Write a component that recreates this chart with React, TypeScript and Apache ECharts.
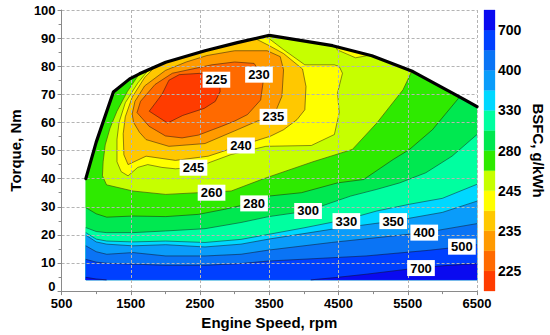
import React, { useEffect, useRef } from 'react';
import * as echarts from 'echarts';

type Pt = [number, number];

// Contour levels (g/kWh) and the colour of each band (band i lies below LEVELS[i])
const LEVELS = [225, 230, 235, 240, 245, 260, 280, 300, 330, 350, 400, 500, 700];
const BAND_COLORS = [
  '#FF3C00', '#FF6A00', '#FF9A00', '#FFC800', '#FFFF00', '#C6FF00', '#2EEA00',
  '#00E850', '#00FFA0', '#00D8FF', '#0A9CFA', '#0A74F5', '#0040FF', '#0A0AF0',
];
const X_OFFSET = 500; // axis starts at 500 rpm
const DOMAIN_LEFT = 850;
const DOMAIN_RIGHT = 6500;
const DOMAIN_BOTTOM = 4;

// Full-load torque curve (rpm, Nm)
const fullLoad: Pt[] = [
  [850, 40], [1000, 53], [1248, 70.8], [1483, 75.5], [1625, 77.3], [2004, 81.4],
  [2571, 85.5], [3039, 88.4], [3500, 91], [4415, 87.3], [4982, 83.7], [5574, 78.1],
  [6300, 68.4], [6500, 65.6],
];

// Contour lines (rpm, Nm)
const c225: Pt[] = [[1766, 64], [1950, 70], [2050, 75], [2200, 77], [2520, 77.5], [2780, 75.5], [2790, 71], [2720, 67.5], [2560, 65], [2250, 62.5], [2030, 59.8]];
const c230: Pt[] = [[1590, 63.5], [1640, 67.5], [1850, 73.5], [2100, 77.5], [2670, 80.5], [3000, 81.5], [3280, 81], [3420, 76], [3375, 68], [3185, 62.8], [3000, 60.5], [2808, 58.6], [2476, 55.5], [2240, 54.5], [2000, 55.2], [1766, 58.6]];
const c235: Pt[] = [[1520, 63], [1560, 67.5], [1700, 73], [2000, 78.5], [2300, 81.5], [2600, 83.8], [3000, 85.5], [3469, 85.5], [3658, 83.4], [3706, 78.7], [3682, 69.3], [3611, 65.1], [3573, 62], [3327, 60.5], [3000, 57], [2571, 52.5], [2050, 51.5], [1720, 53.9], [1625, 56.5], [1540, 60]];
const c240: Pt[] = [[1860, 80], [1700, 76], [1520, 69], [1420, 62], [1390, 56], [1400, 48.5], [1460, 45], [1720, 48], [2145, 46.5], [2618, 48], [3091, 51.8], [3516, 55.1], [3706, 57.4], [3900, 61], [4013, 64.5], [4030, 72.8], [3980, 79], [3706, 84.5], [3500, 87.3], [3300, 89.8]];
const c245: Pt[] = [[1760, 78.8], [1600, 74], [1420, 67], [1330, 60], [1300, 54], [1300, 46], [1360, 42.5], [1460, 41], [1600, 44], [1744, 45], [1950, 44], [2145, 43.5], [2405, 44], [2620, 45.6], [2950, 48.6], [3450, 51.5], [4107, 51.8], [4440, 55.7], [4510, 63.4], [4486, 70.5], [4557, 77.5], [4510, 79.9], [4439, 80.5], [4013, 80.5], [3700, 86], [3450, 90.7]];
const c245b: Pt[] = [[4450, 87.1], [4483, 85.8], [4745, 83], [4950, 83.9]];
const c260: Pt[] = [[1620, 77.2], [1450, 71], [1300, 64], [1200, 58], [1130, 52], [1100, 46], [1090, 41], [1150, 37.8], [1530, 35.6], [2004, 34.4], [2476, 35], [2950, 35.6], [3420, 40], [4130, 46], [4700, 50.4], [5053, 59.8], [5431, 71.6], [5560, 78.3]];
const c280: Pt[] = [[850, 29.7], [1000, 27.5], [1152, 26.3], [1531, 26.7], [2004, 26.5], [2476, 27.3], [2855, 29.1], [3138, 30.7], [3493, 33.8], [3964, 35], [4486, 38.5], [4863, 39.7], [5288, 46.8], [5525, 50.4], [5856, 57.4], [6250, 69.1]];
const c300: Pt[] = [[850, 22.6], [1000, 21.2], [1152, 20.8], [1531, 20.8], [2004, 21.4], [2571, 22.2], [3091, 24.4], [3493, 26.5], [4060, 28.5], [4248, 30.2], [4674, 33.8], [5053, 36.2], [5383, 38.5], [5761, 42.1], [6139, 48], [6500, 55.7]];
const c330: Pt[] = [[850, 20.8], [1000, 18.5], [1152, 17.8], [1531, 17.5], [2004, 17.8], [2571, 17.3], [3091, 18.4], [3493, 20.2], [4000, 22.5], [4613, 25.5], [5053, 28.5], [5525, 30.9], [6000, 33], [6500, 38]];
const c350: Pt[] = [[850, 19.9], [1000, 17.5], [1152, 16.7], [1531, 16.1], [2004, 16.5], [2571, 15.7], [3091, 16.7], [3493, 18.5], [4400, 22], [5290, 24.9], [6000, 28], [6500, 32]];
const c400: Pt[] = [[850, 16.1], [1000, 14], [1152, 13.1], [1531, 13.7], [2004, 12.5], [2571, 12.5], [3091, 13.1], [3493, 14.6], [4400, 17.3], [5740, 20.8], [6500, 24]];
const c500: Pt[] = [[850, 11.3], [1000, 10.3], [1152, 9.9], [2004, 9.2], [2571, 9.2], [3091, 9.8], [3493, 10.7], [4900, 12.5], [5800, 14.5], [6280, 15.8], [6500, 16.5]];
const c700a: Pt[] = [[850, 4.9], [1000, 4.3], [1150, 4]];
const c700b: Pt[] = [[4100, 4], [4450, 4.8], [4900, 6], [5500, 7.8], [6000, 9], [6500, 9.8]];

// Contour labels (rpm, Nm, text)
const LABEL_SPOTS: [number, number, string][] = [
  [2736, 75.2, '225'], [3351, 77, '230'], [3560, 62, '235'], [3091, 51.8, '240'],
  [2405, 43.9, '245'], [2666, 35, '260'], [3280, 31.2, '280'], [4060, 28.5, '300'],
  [4613, 24.9, '330'], [5290, 24.9, '350'], [5738, 20.8, '400'], [6282, 15.8, '500'],
  [5691, 8.2, '700'],
];

type Mode = 'island' | 'above' | 'below';
type Piece = { level: number; mode: Mode; pts: Pt[] };
const pieces: Piece[] = [
  { level: 225, mode: 'island', pts: c225 },
  { level: 230, mode: 'island', pts: c230 },
  { level: 235, mode: 'island', pts: c235 },
  { level: 240, mode: 'above', pts: c240 },
  { level: 245, mode: 'above', pts: c245 },
  { level: 245, mode: 'above', pts: c245b },
  { level: 260, mode: 'above', pts: c260 },
  { level: 280, mode: 'above', pts: c280 },
  { level: 300, mode: 'below', pts: c300 },
  { level: 330, mode: 'below', pts: c330 },
  { level: 350, mode: 'below', pts: c350 },
  { level: 400, mode: 'below', pts: c400 },
  { level: 500, mode: 'below', pts: c500 },
  { level: 700, mode: 'below', pts: c700a },
  { level: 700, mode: 'below', pts: c700b },
];

function polygonOf(p: Piece): Pt[] {
  if (p.mode === 'island') return p.pts;
  const first = p.pts[0];
  const last = p.pts[p.pts.length - 1];
  if (p.mode === 'above') {
    const lo = Math.min(first[0], last[0]) - 1;
    const hi = Math.max(first[0], last[0]) + 1;
    const top = fullLoad.filter((q) => q[0] >= lo && q[0] <= hi);
    const ordered = last[0] >= first[0] ? top.slice().reverse() : top;
    return [...p.pts, ...ordered];
  }
  return [...p.pts, [last[0], DOMAIN_BOTTOM], [first[0], DOMAIN_BOTTOM]];
}

const domain: Pt[] = [[DOMAIN_LEFT, DOMAIN_BOTTOM], [DOMAIN_RIGHT, DOMAIN_BOTTOM], ...fullLoad.slice().reverse()];

const fills: { pts: Pt[]; color: string }[] = [{ pts: domain, color: BAND_COLORS[7] }];
pieces
  .filter((p) => p.mode !== 'below')
  .sort((a, b) => b.level - a.level)
  .forEach((p) => fills.push({ pts: polygonOf(p), color: BAND_COLORS[LEVELS.indexOf(p.level)] }));
pieces
  .filter((p) => p.mode === 'below')
  .sort((a, b) => a.level - b.level)
  .forEach((p) => fills.push({ pts: polygonOf(p), color: BAND_COLORS[LEVELS.indexOf(p.level) + 1] }));

const lines: Pt[][] = pieces.map((p) => (p.mode === 'island' ? [...p.pts, p.pts[0]] : p.pts));

const toXY = (p: Pt): number[] => [p[0] - X_OFFSET, p[1]];
const FONT = 'Liberation Sans, Arial, Helvetica, sans-serif';

export default function App() {
  const ref = useRef<HTMLDivElement>(null);
  useEffect(() => {
    document.body.style.margin = '0';
    const chart = echarts.init(ref.current!, undefined, { renderer: 'svg' });
    const axisGray = '#8a8a8a';
    const option: any = {
      animation: false,
      backgroundColor: '#ffffff',
      textStyle: { fontFamily: FONT },
      grid: [
        { left: 54, right: 73, top: 10, bottom: 43 },
        { left: 484, width: 11, top: 10, bottom: 44 },
      ],
      xAxis: [
        {
          gridIndex: 0, type: 'value', min: 0, max: 6000, interval: 1000, z: 3,
          name: 'Engine Speed, rpm', nameLocation: 'middle', nameGap: 19,
          nameTextStyle: { fontSize: 15, fontWeight: 'bold', color: '#000', fontFamily: FONT },
          axisLine: { show: true, onZero: false, lineStyle: { color: axisGray } },
          axisTick: { show: true, length: 4, lineStyle: { color: axisGray } },
          minorTick: { show: true, splitNumber: 2, length: 3, lineStyle: { color: axisGray } },
          axisLabel: { formatter: (v: number) => String(v + X_OFFSET), fontSize: 13, fontWeight: 'bold', color: '#000', margin: 6, fontFamily: FONT },
          splitLine: { show: true, lineStyle: { color: '#b4b4b4', type: [3, 2], width: 1 } },
        },
        { gridIndex: 1, type: 'value', min: 0, max: 1, show: false },
      ],
      yAxis: [
        {
          gridIndex: 0, type: 'value', min: 0, max: 100, interval: 10, z: 3,
          name: 'Torque, Nm', nameLocation: 'middle', nameGap: 30, nameRotate: 90,
          nameTextStyle: { fontSize: 15, fontWeight: 'bold', color: '#000', fontFamily: FONT },
          axisLine: { show: true, lineStyle: { color: axisGray } },
          axisTick: { show: true, length: 4, lineStyle: { color: axisGray } },
          minorTick: { show: true, splitNumber: 2, length: 3, lineStyle: { color: axisGray } },
          axisLabel: {
            formatter: (v: number) => (v === 0 ? '{z|0}' : String(v)),
            rich: { z: { fontSize: 13, fontWeight: 'bold', color: '#000', fontFamily: FONT, padding: [0, 0, 9, 0] } },
            fontSize: 13, fontWeight: 'bold', color: '#000', margin: 6, fontFamily: FONT,
          },
          splitLine: { show: true, lineStyle: { color: '#b4b4b4', type: [3, 2], width: 1 } },
        },
        {
          gridIndex: 1, type: 'value', min: 0, max: 14, interval: 1, position: 'right',
          name: 'BSFC, g/kWh', nameLocation: 'middle', nameGap: 36, nameRotate: -90,
          nameTextStyle: { fontSize: 15, fontWeight: 'bold', color: '#000', fontFamily: FONT },
          axisLine: { show: false }, axisTick: { show: false }, splitLine: { show: false },
          axisLabel: {
            formatter: (v: number) => (v % 2 === 1 ? String(LEVELS[v - 1]) : ''),
            fontSize: 14, fontWeight: 'bold', color: '#000', margin: 3, fontFamily: FONT,
          },
        },
      ],
      series: [
        {
          type: 'custom', xAxisIndex: 0, yAxisIndex: 0, z: 1, silent: true,
          data: fills.map(() => [3000, 50]),
          renderItem: (params: any, api: any) => {
            const f = fills[params.dataIndex];
            return {
              type: 'polygon',
              shape: { points: f.pts.map((p) => api.coord(toXY(p))) },
              style: { fill: f.color, stroke: f.color, lineWidth: 0.3 },
            };
          },
        },
        {
          type: 'custom', xAxisIndex: 0, yAxisIndex: 0, z: 2, silent: true,
          data: lines.map(() => [3000, 50]),
          renderItem: (params: any, api: any) => {
            const l = lines[params.dataIndex];
            return {
              type: 'polyline',
              shape: { points: l.map((p) => api.coord(toXY(p))) },
              style: { fill: null, stroke: 'rgba(20,20,20,0.8)', lineWidth: 0.6 },
            };
          },
        },
        {
          type: 'line', xAxisIndex: 0, yAxisIndex: 0, z: 5, silent: true,
          data: fullLoad.map(toXY), symbol: 'none',
          lineStyle: { color: '#000', width: 3.2, cap: 'round', join: 'round' },
        },
        {
          type: 'scatter', xAxisIndex: 0, yAxisIndex: 0, z: 6, silent: true,
          symbolSize: 1, itemStyle: { color: 'rgba(255,255,255,0)', opacity: 1 },
          data: LABEL_SPOTS.map((s) => ({ value: toXY([s[0], s[1]]), name: s[2] })),
          label: {
            show: true, position: 'inside', formatter: '{b}', backgroundColor: '#ffffff',
            padding: [2, 3, 1, 3], color: '#000', fontWeight: 'bold', fontSize: 13, fontFamily: FONT,
          },
        },
        {
          type: 'custom', xAxisIndex: 1, yAxisIndex: 1, z: 2, silent: true,
          data: BAND_COLORS.map((_, i) => [0.5, i + 0.5]),
          renderItem: (params: any, api: any) => {
            const i = params.dataIndex;
            const a = api.coord([0, i + 1]);
            const b = api.coord([1, i]);
            return {
              type: 'rect',
              shape: { x: a[0], y: a[1], width: b[0] - a[0], height: b[1] - a[1] },
              style: { fill: BAND_COLORS[i], stroke: BAND_COLORS[i], lineWidth: 0.3 },
            };
          },
        },
      ],
    };
    chart.setOption(option);
    return () => chart.dispose();
  }, []);
  return <div ref={ref} style={{ width: 550, height: 335 }} />;
}
